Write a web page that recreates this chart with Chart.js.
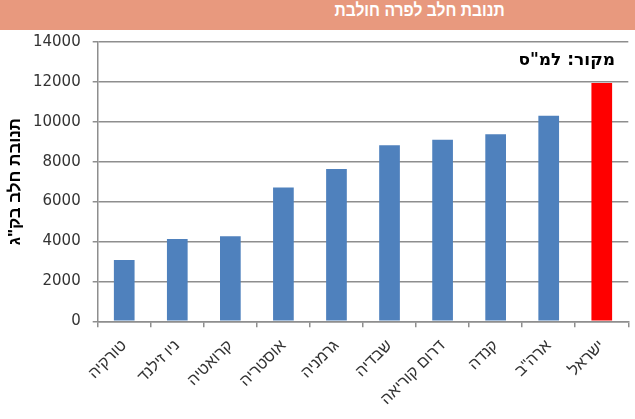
<!DOCTYPE html>
<html>
<head>
<meta charset="utf-8">
<script src="https://cdn.jsdelivr.net/npm/chart.js@4"></script>
<style>
  body { margin: 0; background: #fff; }
  #header {
    height: 30px; background: #E8997E; color: #fff; position: relative; overflow: hidden;
  }
  #header span {
    position: absolute; right: 130px; top: 0; line-height: 30px;
    font: bold 18px "Liberation Sans", Arial, sans-serif;
    direction: rtl; transform: scaleX(0.87); transform-origin: right center; white-space: nowrap;
  }
  #wrap { position: relative; width: 635px; height: 389px; }
</style>
</head>
<body>
<div id="header"><span>תנובת חלב לפרה חולבת</span></div>
<div id="wrap"><canvas id="chart"></canvas></div>
<script>
const categories = ['טורקיה', 'ניו זילנד', 'קרואטיה', 'אוסטריה', 'גרמניה', 'שבדיה', 'דרום קוריאה', 'קנדה', 'ארה"ב', 'ישראל'];
const milkYield = [3070, 4120, 4260, 6710, 7630, 8820, 9100, 9380, 10300, 11950];
const highlight = 'ישראל';
const yTitle = 'תנובת חלב בק"ג';
const sourceNote = 'מקור: למ"ס';

// source note in the top right corner of the plot
const notes = {
    id: 'notes',
    afterDraw(chart) {
        const ctx = chart.ctx;
        ctx.save();
        ctx.fillStyle = '#000';
        ctx.font = 'bold 17px "DejaVu Sans", sans-serif';
        ctx.textAlign = 'right';
        ctx.textBaseline = 'middle';
        ctx.fillText(sourceNote, 615, 31);
        ctx.restore();
    }
};

const ctx = document.getElementById('chart').getContext('2d');
new Chart(ctx, {
    type: 'bar',
    data: {
        labels: categories,
        datasets: [{
            data: milkYield,
            backgroundColor: c => categories[c.dataIndex] === highlight ? '#FF0000' : '#4F81BD',
            barPercentage: 0.39,
            categoryPercentage: 1
        }]
    },
    options: {
        responsive: true,
        maintainAspectRatio: false,
        animation: false,
        layout: { padding: { top: 12, right: 6.7, left: 0, bottom: 0 } },
        plugins: {
            legend: { display: false },
            tooltip: { enabled: false }
        },
        scales: {
            x: {
                afterFit: s => { s.height = 97.7; },
                grid: { drawOnChartArea: false, drawTicks: true, tickLength: 6, color: '#8e8e8e', lineWidth: 1.5 },
                border: { color: '#8e8e8e', width: 1.5 },
                ticks: {
                    minRotation: 45, maxRotation: 45, padding: 9,
                    color: '#333', font: { family: '"Liberation Sans", Arial, sans-serif', size: 16 }
                }
            },
            y: {
                min: 0, max: 14000,
                afterFit: s => { s.width = 97.7; s.paddingTop = 0; s.paddingBottom = 0; },
                grid: { color: '#8e8e8e', lineWidth: 1.5, tickLength: 5 },
                border: { color: '#8e8e8e', width: 1.5 },
                title: {
                    display: true, text: yTitle, color: '#000', padding: { top: 5, bottom: 0 },
                    font: { family: '"Liberation Sans", Arial, sans-serif', size: 17, weight: 'bold' }
                },
                ticks: {
                    stepSize: 2000, padding: 12,
                    callback: v => String(v),
                    color: '#333', font: { family: '"DejaVu Sans", sans-serif', size: 15 }
                }
            }
        }
    },
    plugins: [notes]
});
</script>
</body>
</html>
